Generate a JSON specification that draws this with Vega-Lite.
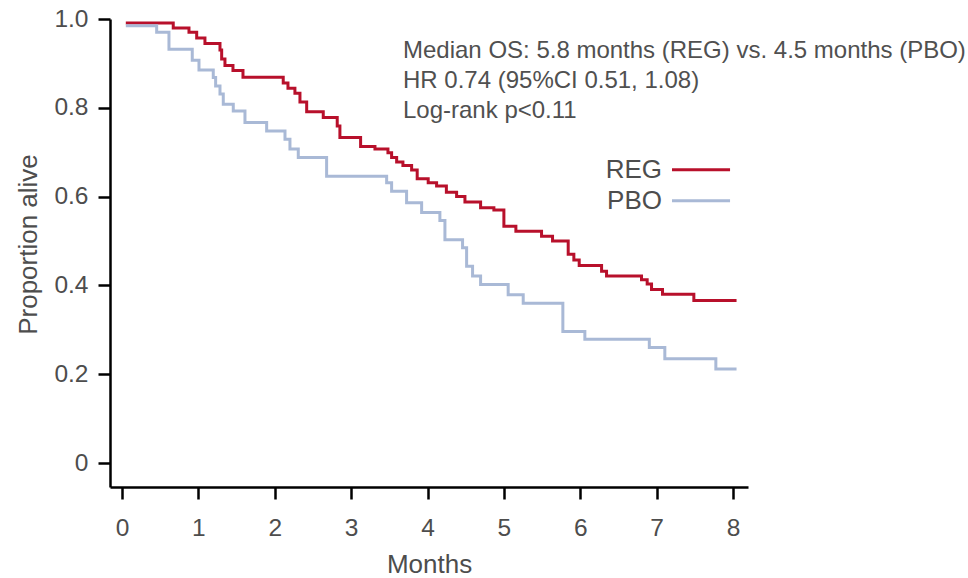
{
  "$schema": "https://vega.github.io/schema/vega-lite/v6.json",
  "width": 638,
  "height": 468,
  "autosize": "none",
  "padding": {"left": 110, "top": 19, "right": 220, "bottom": 91},
  "background": "white",
  "config": {
    "view": {"stroke": null},
    "font": "Liberation Sans",
    "axis": {
      "grid": false,
      "domainColor": "black",
      "domainWidth": 2.5,
      "tickColor": "black",
      "tickWidth": 2.5,
      "tickSize": 12,
      "labelFont": "Liberation Sans",
      "labelFontSize": 24.5,
      "labelColor": "#4d4d4d",
      "titleFont": "Liberation Sans",
      "titleFontSize": 26,
      "titleFontWeight": "normal",
      "titleColor": "#4d4d4d"
    }
  },
  "datasets": {
    "km": [
      {"group": "REG", "months": 0.05, "surv": 0.991},
      {"group": "REG", "months": 0.671, "surv": 0.980},
      {"group": "REG", "months": 0.877, "surv": 0.970},
      {"group": "REG", "months": 0.978, "surv": 0.957},
      {"group": "REG", "months": 1.086, "surv": 0.945},
      {"group": "REG", "months": 1.283, "surv": 0.930},
      {"group": "REG", "months": 1.305, "surv": 0.910},
      {"group": "REG", "months": 1.348, "surv": 0.895},
      {"group": "REG", "months": 1.453, "surv": 0.884},
      {"group": "REG", "months": 1.584, "surv": 0.869},
      {"group": "REG", "months": 2.111, "surv": 0.856},
      {"group": "REG", "months": 2.173, "surv": 0.844},
      {"group": "REG", "months": 2.264, "surv": 0.833},
      {"group": "REG", "months": 2.330, "surv": 0.813},
      {"group": "REG", "months": 2.418, "surv": 0.791},
      {"group": "REG", "months": 2.635, "surv": 0.778},
      {"group": "REG", "months": 2.818, "surv": 0.759},
      {"group": "REG", "months": 2.853, "surv": 0.733},
      {"group": "REG", "months": 3.124, "surv": 0.713},
      {"group": "REG", "months": 3.312, "surv": 0.707},
      {"group": "REG", "months": 3.482, "surv": 0.699},
      {"group": "REG", "months": 3.530, "surv": 0.688},
      {"group": "REG", "months": 3.596, "surv": 0.678},
      {"group": "REG", "months": 3.678, "surv": 0.670},
      {"group": "REG", "months": 3.792, "surv": 0.660},
      {"group": "REG", "months": 3.865, "surv": 0.640},
      {"group": "REG", "months": 4.009, "surv": 0.631},
      {"group": "REG", "months": 4.119, "surv": 0.624},
      {"group": "REG", "months": 4.247, "surv": 0.610},
      {"group": "REG", "months": 4.381, "surv": 0.600},
      {"group": "REG", "months": 4.490, "surv": 0.588},
      {"group": "REG", "months": 4.695, "surv": 0.575},
      {"group": "REG", "months": 4.869, "surv": 0.570},
      {"group": "REG", "months": 5.000, "surv": 0.533},
      {"group": "REG", "months": 5.157, "surv": 0.522},
      {"group": "REG", "months": 5.493, "surv": 0.511},
      {"group": "REG", "months": 5.637, "surv": 0.500},
      {"group": "REG", "months": 5.842, "surv": 0.470},
      {"group": "REG", "months": 5.916, "surv": 0.457},
      {"group": "REG", "months": 5.986, "surv": 0.445},
      {"group": "REG", "months": 6.279, "surv": 0.432},
      {"group": "REG", "months": 6.344, "surv": 0.421},
      {"group": "REG", "months": 6.802, "surv": 0.413},
      {"group": "REG", "months": 6.876, "surv": 0.403},
      {"group": "REG", "months": 6.933, "surv": 0.391},
      {"group": "REG", "months": 7.077, "surv": 0.380},
      {"group": "REG", "months": 7.487, "surv": 0.366},
      {"group": "REG", "months": 8.046, "surv": 0.366},
      {"group": "PBO", "months": 0.05, "surv": 0.985},
      {"group": "PBO", "months": 0.454, "surv": 0.970},
      {"group": "PBO", "months": 0.615, "surv": 0.932},
      {"group": "PBO", "months": 0.920, "surv": 0.907},
      {"group": "PBO", "months": 1.008, "surv": 0.885},
      {"group": "PBO", "months": 1.195, "surv": 0.868},
      {"group": "PBO", "months": 1.226, "surv": 0.849},
      {"group": "PBO", "months": 1.283, "surv": 0.831},
      {"group": "PBO", "months": 1.326, "surv": 0.808},
      {"group": "PBO", "months": 1.457, "surv": 0.793},
      {"group": "PBO", "months": 1.610, "surv": 0.767},
      {"group": "PBO", "months": 1.894, "surv": 0.748},
      {"group": "PBO", "months": 2.134, "surv": 0.729},
      {"group": "PBO", "months": 2.199, "surv": 0.707},
      {"group": "PBO", "months": 2.308, "surv": 0.688},
      {"group": "PBO", "months": 2.679, "surv": 0.646},
      {"group": "PBO", "months": 3.465, "surv": 0.631},
      {"group": "PBO", "months": 3.530, "surv": 0.612},
      {"group": "PBO", "months": 3.726, "surv": 0.586},
      {"group": "PBO", "months": 3.923, "surv": 0.564},
      {"group": "PBO", "months": 4.162, "surv": 0.546},
      {"group": "PBO", "months": 4.228, "surv": 0.503},
      {"group": "PBO", "months": 4.459, "surv": 0.485},
      {"group": "PBO", "months": 4.512, "surv": 0.443},
      {"group": "PBO", "months": 4.590, "surv": 0.421},
      {"group": "PBO", "months": 4.695, "surv": 0.402},
      {"group": "PBO", "months": 5.056, "surv": 0.379},
      {"group": "PBO", "months": 5.253, "surv": 0.360},
      {"group": "PBO", "months": 5.772, "surv": 0.296},
      {"group": "PBO", "months": 6.060, "surv": 0.279},
      {"group": "PBO", "months": 6.904, "surv": 0.260},
      {"group": "PBO", "months": 7.107, "surv": 0.235},
      {"group": "PBO", "months": 7.775, "surv": 0.212},
      {"group": "PBO", "months": 8.046, "surv": 0.212}
    ]
  },
  "layer": [
    {
      "data": {"name": "km"},
      "mark": {"type": "line", "interpolate": "step-after", "strokeWidth": 3},
      "encoding": {
        "x": {
          "field": "months", "type": "quantitative",
          "scale": {"domain": [-0.157, 8.196], "nice": false, "zero": false},
          "axis": {"title": "Months", "values": [0, 1, 2, 3, 4, 5, 6, 7, 8], "labelPadding": 17, "titlePadding": 12, "format": "d"}
        },
        "y": {
          "field": "surv", "type": "quantitative",
          "scale": {"domain": [-0.054, 1.0], "nice": false, "zero": false},
          "axis": {"title": "Proportion alive", "values": [0, 0.2, 0.4, 0.6, 0.8, 1.0], "labelPadding": 10, "titlePadding": 12, "titleY": 225,
                   "labelExpr": "datum.value == 0 ? '0' : format(datum.value, '.1f')"}
        },
        "color": {
          "field": "group", "type": "nominal",
          "scale": {"domain": ["REG", "PBO"], "range": ["#b8102b", "#a9b9d6"]},
          "legend": null
        }
      }
    },
    {
      "data": {"values": [{}]},
      "mark": {"type": "rule", "strokeWidth": 3, "color": "#b8102b"},
      "encoding": {"x": {"datum": 7.201}, "x2": {"datum": 7.961}, "y": {"datum": 0.6604}}
    },
    {
      "data": {"values": [{}]},
      "mark": {"type": "rule", "strokeWidth": 3, "color": "#a9b9d6"},
      "encoding": {"x": {"datum": 7.201}, "x2": {"datum": 7.961}, "y": {"datum": 0.5905}}
    },
    {
      "data": {"values": [{}]},
      "mark": {"type": "text", "align": "right", "baseline": "middle", "fontSize": 26, "color": "#4d4d4d", "font": "Liberation Sans", "text": "REG"},
      "encoding": {"x": {"datum": 7.07}, "y": {"datum": 0.6604}}
    },
    {
      "data": {"values": [{}]},
      "mark": {"type": "text", "align": "right", "baseline": "middle", "fontSize": 26, "color": "#4d4d4d", "font": "Liberation Sans", "text": "PBO"},
      "encoding": {"x": {"datum": 7.07}, "y": {"datum": 0.5905}}
    },
    {
      "data": {"values": [{}]},
      "mark": {"type": "text", "align": "left", "baseline": "middle", "fontSize": 24, "color": "#505050", "font": "Liberation Sans", "text": "Median OS: 5.8 months (REG) vs. 4.5 months (PBO)"},
      "encoding": {"x": {"datum": 3.679}, "y": {"datum": 0.9286}}
    },
    {
      "data": {"values": [{}]},
      "mark": {"type": "text", "align": "left", "baseline": "middle", "fontSize": 24, "color": "#505050", "font": "Liberation Sans", "text": "HR 0.74 (95%CI 0.51, 1.08)"},
      "encoding": {"x": {"datum": 3.679}, "y": {"datum": 0.861}}
    },
    {
      "data": {"values": [{}]},
      "mark": {"type": "text", "align": "left", "baseline": "middle", "fontSize": 24, "color": "#505050", "font": "Liberation Sans", "text": "Log-rank p<0.11"},
      "encoding": {"x": {"datum": 3.679}, "y": {"datum": 0.793}}
    }
  ]
}
